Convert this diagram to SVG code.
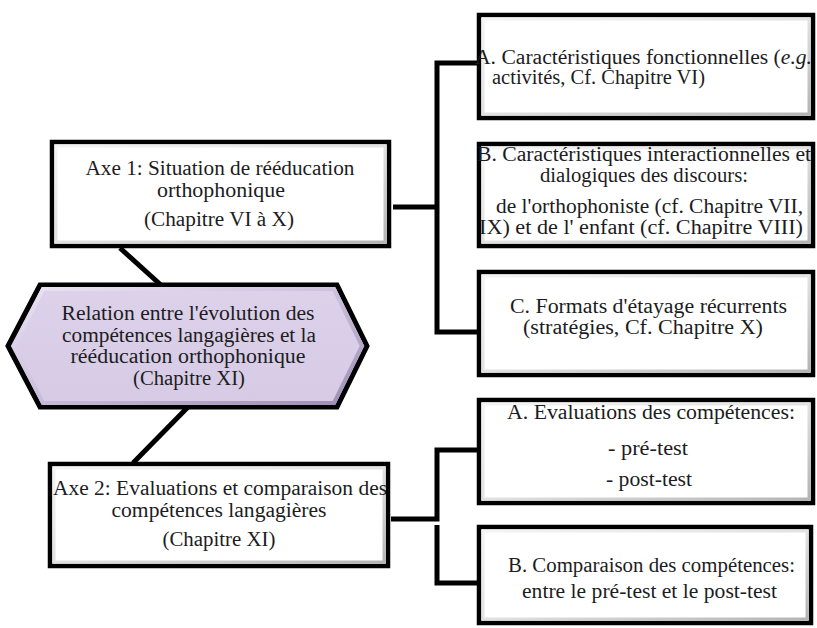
<svg xmlns="http://www.w3.org/2000/svg" width="817" height="628" viewBox="0 0 817 628">
<style>
  .box{fill:#ffffff;stroke:#000000;stroke-width:4.5}
  .bevel{fill:none;stroke:url(#bev);stroke-width:3}
  .hex{fill:url(#hexFill);stroke:#000000;stroke-width:5;stroke-linejoin:miter}
  .hexbev{fill:none;stroke:url(#hexBev);stroke-width:4}
  .t{font-family:"Liberation Serif","Times New Roman",serif;font-size:20px;fill:#1c1c22;text-anchor:middle}
  .conn{fill:none;stroke:#000000;stroke-width:5;stroke-linejoin:miter;stroke-linecap:butt}
</style>
<defs>
  <linearGradient id="bev" x1="0" y1="0" x2="1" y2="1">
    <stop offset="0" stop-color="#f4f4f4"/>
    <stop offset="0.5" stop-color="#e2e2e2"/>
    <stop offset="1" stop-color="#b4b4b4"/>
  </linearGradient>
  <linearGradient id="hexFill" x1="0" y1="0" x2="0" y2="1">
    <stop offset="0" stop-color="#ddd2ea"/>
    <stop offset="1" stop-color="#d6cae5"/>
  </linearGradient>
  <linearGradient id="hexBev" x1="0" y1="0" x2="1" y2="1">
    <stop offset="0" stop-color="#ebe4f3"/>
    <stop offset="0.5" stop-color="#cbbedc"/>
    <stop offset="1" stop-color="#9d8db3"/>
  </linearGradient>
</defs>

<g id="connectors">
  <line class="conn" x1="120" y1="248" x2="162" y2="286"/>
  <line class="conn" x1="188" y1="407" x2="133" y2="463"/>
  <polyline class="conn" points="393,207 437,207"/>
  <polyline class="conn" points="477,63 437,63 437,332 477,332"/>
  <polyline class="conn" points="391,519 437,519 437,450 477,450"/>
  <polyline class="conn" points="437,525 437,583 477,583"/>
</g>

<g id="axe1">
  <rect class="box" x="52" y="142" width="337" height="104"/>
  <rect class="bevel" x="56" y="146" width="329" height="96"/>
  <text class="t" x="220" y="175" textLength="269" lengthAdjust="spacingAndGlyphs">Axe 1: Situation de rééducation</text>
  <text class="t" x="221" y="197" textLength="128" lengthAdjust="spacingAndGlyphs">orthophonique</text>
  <text class="t" x="219" y="226" textLength="150" lengthAdjust="spacingAndGlyphs">(Chapitre VI à X)</text>
</g>

<g id="relation">
  <polygon class="hex" points="8,346 40,285 337,285 367,346 337,407 40,407"/>
  <polygon class="hexbev" points="14,346 43,289 334,289 362,346 334,403 43,403"/>
  <text class="t" x="188" y="320" textLength="253" lengthAdjust="spacingAndGlyphs">Relation entre l'évolution des</text>
  <text class="t" x="189" y="342" textLength="254" lengthAdjust="spacingAndGlyphs">compétences langagières et la</text>
  <text class="t" x="188" y="363" textLength="235" lengthAdjust="spacingAndGlyphs">rééducation orthophonique</text>
  <text class="t" x="189" y="385" textLength="112" lengthAdjust="spacingAndGlyphs">(Chapitre XI)</text>
</g>

<g id="axe2">
  <rect class="box" x="50" y="464" width="338" height="102"/>
  <rect class="bevel" x="54" y="468" width="330" height="94"/>
  <text class="t" x="220" y="495" textLength="334" lengthAdjust="spacingAndGlyphs">Axe 2: Evaluations et comparaison des</text>
  <text class="t" x="219" y="517" textLength="215" lengthAdjust="spacingAndGlyphs">compétences langagières</text>
  <text class="t" x="219" y="546" textLength="113" lengthAdjust="spacingAndGlyphs">(Chapitre XI)</text>
</g>

<g id="axe1-a">
  <rect class="box" x="479" y="15" width="334" height="103"/>
  <rect class="bevel" x="483" y="19" width="326" height="95"/>
  <text class="t" x="643.5" y="64" textLength="337" lengthAdjust="spacingAndGlyphs">A. Caractéristiques fonctionnelles (<tspan font-style="italic">e.g.</tspan></text>
  <text class="t" x="598.5" y="84" textLength="213" lengthAdjust="spacingAndGlyphs">activités, Cf. Chapitre VI)</text>
</g>

<g id="axe1-b">
  <rect class="box" x="479" y="144" width="334" height="102"/>
  <rect class="bevel" x="483" y="148" width="326" height="94"/>
  <text class="t" x="644" y="161" textLength="334" lengthAdjust="spacingAndGlyphs">B. Caractéristiques interactionnelles et</text>
  <text class="t" x="644" y="182" textLength="208" lengthAdjust="spacingAndGlyphs">dialogiques des discours:</text>
  <text class="t" x="649.5" y="213" textLength="307" lengthAdjust="spacingAndGlyphs">de l'orthophoniste (cf. Chapitre VII,</text>
  <text class="t" x="641" y="234" textLength="324" lengthAdjust="spacingAndGlyphs">IX) et de l' enfant (cf. Chapitre VIII)</text>
</g>

<g id="axe1-c">
  <rect class="box" x="479" y="272" width="334" height="103"/>
  <rect class="bevel" x="483" y="276" width="326" height="95"/>
  <text class="t" x="648.5" y="313" textLength="277" lengthAdjust="spacingAndGlyphs">C. Formats d'étayage récurrents</text>
  <text class="t" x="643" y="334" textLength="240" lengthAdjust="spacingAndGlyphs">(stratégies, Cf. Chapitre X)</text>
</g>

<g id="axe2-a">
  <rect class="box" x="479" y="400" width="334" height="103"/>
  <rect class="bevel" x="483" y="404" width="326" height="95"/>
  <text class="t" x="651" y="419" textLength="288" lengthAdjust="spacingAndGlyphs">A. Evaluations des compétences:</text>
  <text class="t" x="648" y="455" textLength="80" lengthAdjust="spacingAndGlyphs">- pré-test</text>
  <text class="t" x="649" y="486" textLength="86" lengthAdjust="spacingAndGlyphs">- post-test</text>
</g>

<g id="axe2-b">
  <rect class="box" x="479" y="527" width="332" height="96"/>
  <rect class="bevel" x="483" y="531" width="324" height="88"/>
  <text class="t" x="651.5" y="572" textLength="287" lengthAdjust="spacingAndGlyphs">B. Comparaison des compétences:</text>
  <text class="t" x="649.5" y="598" textLength="255" lengthAdjust="spacingAndGlyphs">entre le pré-test et le post-test</text>
</g>
</svg>
